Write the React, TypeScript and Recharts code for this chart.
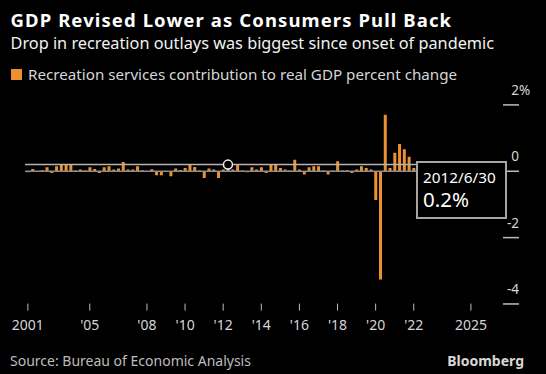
import { ComposedChart, Bar, XAxis, YAxis, ReferenceLine, ReferenceDot } from "recharts";

const BG = "#000000";
const BAR = "#ec9130";
const INK = "#d6d6d6";
const INK_MUTED = "#bdbdbd";
const RULE = "#8c8c8c";
const FONT = "'Noto Sans', 'Open Sans', sans-serif";

// quarterly series, first quarter is 2001 Q4
const START_YEAR = 2001;
const START_QUARTER = 4;
const QUARTER_END = ["3/31", "6/30", "9/30", "12/31"];
const VALUES = [
  -0.03,
  0.07, 0.0, 0.03, 0.12,
  -0.05, 0.15, 0.22, 0.22,
  0.22, 0.02, 0.05, 0.02,
  0.12, 0.07, -0.05, 0.12,
  0.15, 0.05, 0.08, 0.28,
  0.05, 0.05, 0.15, 0.03,
  0.01, 0.06, -0.12, -0.12,
  -0.02, -0.15, 0.08, 0.04,
  0.1, 0.2, 0.13, 0.02,
  -0.2, 0.08, 0.05, -0.2,
  0.05, 0.2, 0.05, 0.2,
  0.02, -0.03, 0.12, 0.05,
  0.12, -0.05, 0.2, 0.2,
  0.1, 0.05, 0.02, 0.35,
  0.05, -0.1, 0.12, 0.15,
  0.15, 0.02, -0.1, 0.02,
  0.3, 0.02, 0.03, -0.05,
  0.05, 0.15, 0.1, 0.05,
  -0.87, -3.26, 1.7, 0.1,
  0.56, 0.82, 0.66, 0.44,
  0.1, 0.12, 0.1, 0.08,
  0.05, 0.1, 0.06, 0.08,
  0.04, 0.07, 0.05, 0.06,
  -0.1,
];
const HIGHLIGHT_INDEX = 42;

const X_TICKS = [2001.75, 2005, 2008, 2010, 2012, 2014, 2016, 2018, 2020, 2022, 2025];
const X_TICK_LABELS = ["2001", "'05", "'08", "'10", "'12", "'14", "'16", "'18", "'20", "'22", "2025"];
const Y_TICKS = [-4, -2, 0, 2];
const X_DOMAIN: [number, number] = [2001.6, 2026.5];
const Y_DOMAIN: [number, number] = [-4.2, 2.6];

const data = VALUES.map((value, i) => {
  const q0 = START_QUARTER - 1 + i;
  const year = START_YEAR + Math.floor(q0 / 4);
  const q = q0 % 4;
  return { t: year + q / 4, value, date: `${year}/${QUARTER_END[q]}` };
});

const highlight = data[HIGHLIGHT_INDEX];

function XTick({ x, y, payload }: any) {
  const i = X_TICKS.indexOf(payload.value);
  return (
    <g>
      <line x1={x} x2={x} y1={y - 7} y2={y} stroke={INK_MUTED} strokeWidth={1} />
      <text x={x} y={y + 19.5} textAnchor="middle" fill={INK} fontSize={14} fontFamily={FONT}>
        {X_TICK_LABELS[i]}
      </text>
    </g>
  );
}

function YTick({ x, y, payload }: any) {
  const v = payload.value;
  return (
    <g>
      <line x1={x + 3.5} x2={x + 19.5} y1={y} y2={y} stroke={INK_MUTED} strokeWidth={1.5} />
      <text x={x + 19.5} y={y - 10} textAnchor="end" fill={INK} fontSize={13.5} fontFamily={FONT}>
        {v}
      </text>
      {v === Y_TICKS[Y_TICKS.length - 1] && (
        <text x={x + 19.5} y={y - 10} fill={INK} fontSize={13.5} fontFamily={FONT}>
          %
        </text>
      )}
    </g>
  );
}

export default function App() {
  return (
    <div style={{ position: "relative", width: 546, height: 374, background: BG }}>
      <style>{`body{margin:0;background:${BG}}`}</style>
      <ComposedChart
        width={546}
        height={374}
        data={data}
        margin={{ top: 85, right: 6.5, left: 25, bottom: 33.4 }}
      >
        <XAxis
          dataKey="t"
          type="number"
          domain={X_DOMAIN}
          ticks={X_TICKS}
          tick={<XTick />}
          axisLine={false}
          tickLine={false}
          tickSize={0}
          tickMargin={0}
          height={30}
          allowDataOverflow
        />
        <YAxis
          orientation="right"
          type="number"
          domain={Y_DOMAIN}
          ticks={Y_TICKS}
          tick={<YTick />}
          axisLine={false}
          tickLine={false}
          tickSize={0}
          tickMargin={0}
          width={40}
          allowDataOverflow
        />
        <Bar dataKey="value" fill={BAR} barSize={3} isAnimationActive={false} />
        <ReferenceLine y={0} stroke={RULE} strokeWidth={1.5} />
        <ReferenceLine
          segment={[
            { x: X_DOMAIN[0], y: highlight.value },
            { x: X_DOMAIN[1], y: highlight.value },
          ]}
          stroke="#b4b4b4"
          strokeWidth={1.5}
        />
        <ReferenceDot x={highlight.t} y={highlight.value} r={4.5} fill={BG} stroke="#f0f0f0" strokeWidth={1.5} />
      </ComposedChart>

      <svg
        width={546}
        height={374}
        style={{ position: "absolute", left: 0, top: 0, pointerEvents: "none" }}
      >
        <text x={10.5} y={26.5} fill="#ffffff" fontSize={18.5} fontWeight={700} letterSpacing={1.1} fontFamily={FONT}>
          GDP Revised Lower as Consumers Pull Back
        </text>
        <text x={10.5} y={48.5} fill="#f2f2f2" fontSize={16.3} fontFamily={FONT}>
          Drop in recreation outlays was biggest since onset of pandemic
        </text>
        <rect x={11} y={69} width={11} height={11} fill={BAR} />
        <text x={28} y={80} fill={INK} fontSize={15.2} fontFamily={FONT}>
          Recreation services contribution to real GDP percent change
        </text>

        <rect x={417} y={162} width={89} height={56} fill={BG} stroke="#a5a5a5" strokeWidth={2} />
        <text x={423} y={182.5} fill="#ffffff" fontSize={15.3} fontFamily={FONT}>
          {highlight.date}
        </text>
        <text x={423} y={207.3} fill="#ffffff" fontSize={20.5} fontFamily={FONT}>
          {`${highlight.value}%`}
        </text>

        <text x={10} y={366} fill={INK_MUTED} fontSize={14} fontFamily={FONT}>
          Source: Bureau of Economic Analysis
        </text>
        <text x={524} y={366} textAnchor="end" fill={INK} fontSize={14} fontWeight={700} fontFamily={FONT}>
          Bloomberg
        </text>
      </svg>
    </div>
  );
}
